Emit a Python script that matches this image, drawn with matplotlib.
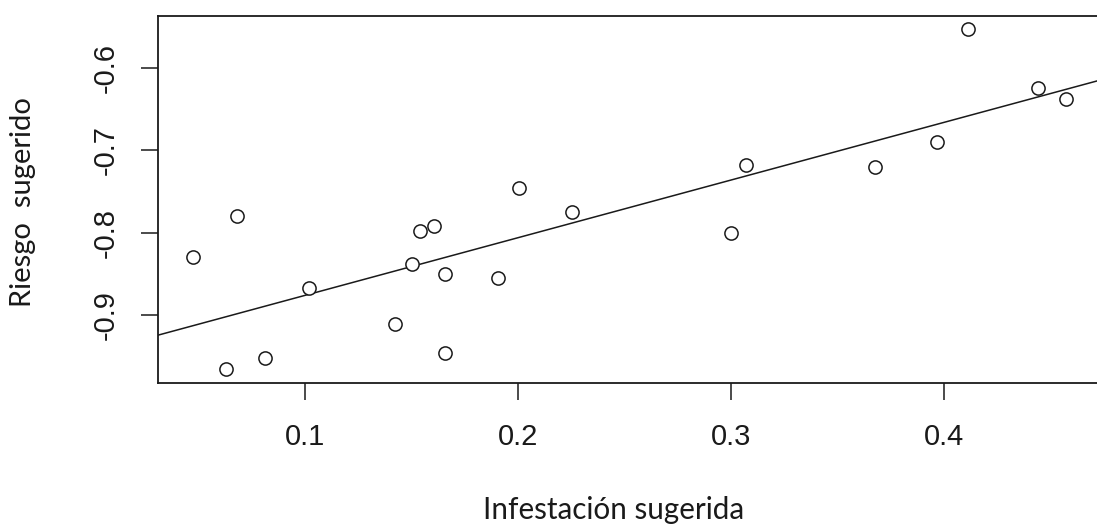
import numpy as np
import matplotlib
matplotlib.use("Agg")
from matplotlib import pyplot as plt

# infestation vs risk, one point per site
infestacion = [0.0471, 0.0626, 0.0680, 0.0808, 0.1017, 0.1420, 0.1502, 0.1538,
               0.1604, 0.1657, 0.1657, 0.1903, 0.2005, 0.2251, 0.2999, 0.3073,
               0.3675, 0.3967, 0.4112, 0.4441, 0.4577]
riesgo = [-0.829, -0.9656, -0.779, -0.9514, -0.8665, -0.9109, -0.8384, -0.7981,
          -0.7913, -0.850, -0.9463, -0.8545, -0.7461, -0.7744, -0.8005, -0.7176,
          -0.7204, -0.6899, -0.5534, -0.6238, -0.6374]
xticks = [0.1, 0.2, 0.3, 0.4]
yticks = [-0.9, -0.8, -0.7, -0.6]

x = np.array(infestacion)
y = np.array(riesgo)
b, a = np.polyfit(x, y, 1)

fig = plt.figure(figsize=(10.97, 5.29), dpi=100)
ax = fig.add_axes([0.144, 0.276, 0.860, 0.694])
ink = "#1a1a1a"

ax.plot(x, y, "o", mfc="white", mec=ink, ms=9.5, mew=1.1, zorder=3)

# R-style 4% padding on both axes
xr = x.max() - x.min()
yr = y.max() - y.min()
ax.set_xlim(x.min() - 0.04 * xr, x.max() + 0.04 * xr)
ax.set_ylim(y.min() - 0.04 * yr, y.max() + 0.04 * yr)

xx = np.array(ax.get_xlim())
ax.plot(xx, a + b * xx, color=ink, lw=1.1, zorder=2)

ax.set_xticks(xticks)
ax.set_yticks(yticks)
ax.set_xticklabels([str(t) for t in xticks], fontfamily="Liberation Sans", fontsize=21)
ax.set_yticklabels([str(t) for t in yticks], fontfamily="Liberation Sans", fontsize=21,
                   rotation=90, va="center")
ax.tick_params(axis="both", length=12.5, width=1.1, color=ink, labelcolor=ink)
ax.tick_params(axis="x", pad=16)
ax.tick_params(axis="y", pad=15)
for s in ax.spines.values():
    s.set_linewidth(1.3)
    s.set_color(ink)

fig.text(0.559, 0.036, "Infestación sugerida", fontfamily="Lato", fontsize=21.3,
         ha="center", va="center", color=ink)
fig.text(0.021, 0.618, "Riesgo  sugerido", fontfamily="Lato", fontsize=21,
         ha="center", va="center", rotation=90, color=ink)

fig.savefig("out.png", dpi=100)
